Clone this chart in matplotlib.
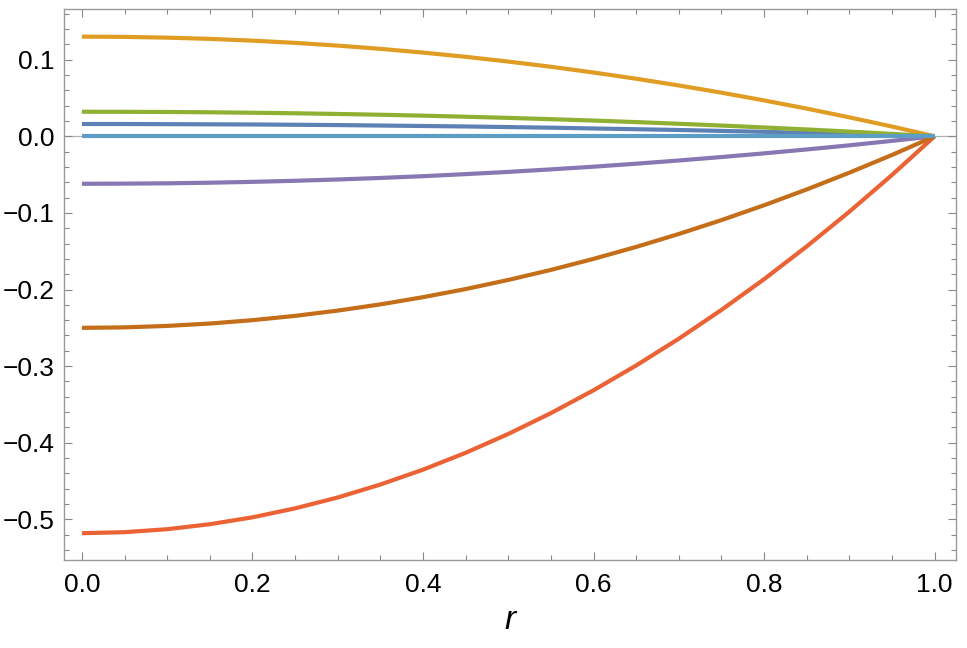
import matplotlib
matplotlib.use("Agg")
import matplotlib.pyplot as plt
from matplotlib.ticker import MultipleLocator

plt.rcParams['font.family'] = ['Liberation Sans', 'DejaVu Sans']

r = [0.0, 0.05, 0.1, 0.15, 0.2, 0.25, 0.3, 0.35, 0.4, 0.45, 0.5,
     0.55, 0.6, 0.65, 0.7, 0.75, 0.8, 0.85, 0.9, 0.95, 1.0]

blue = [0.016, 0.0160, 0.0158, 0.0156, 0.0154, 0.0150, 0.0146, 0.0140, 0.0134, 0.0128, 0.0120,
        0.0112, 0.0102, 0.0092, 0.0082, 0.0070, 0.0058, 0.0044, 0.0030, 0.0016, 0.0]
orange = [0.130, 0.1297, 0.1287, 0.1271, 0.1248, 0.1219, 0.1183, 0.1141, 0.1092, 0.1037, 0.0975,
          0.0907, 0.0832, 0.0751, 0.0663, 0.0569, 0.0468, 0.0361, 0.0247, 0.0127, 0.0]
green = [0.032, 0.0319, 0.0317, 0.0313, 0.0307, 0.0300, 0.0291, 0.0281, 0.0269, 0.0255, 0.0240,
         0.0223, 0.0205, 0.0185, 0.0163, 0.0140, 0.0115, 0.0089, 0.0061, 0.0031, 0.0]
red = [-0.518, -0.5167, -0.5128, -0.5063, -0.4973, -0.4856, -0.4714, -0.4545, -0.4351, -0.4131, -0.3885,
       -0.3613, -0.3315, -0.2991, -0.2642, -0.2266, -0.1865, -0.1437, -0.0984, -0.0505, 0.0]
purple = [-0.062, -0.0618, -0.0614, -0.0606, -0.0595, -0.0581, -0.0564, -0.0544, -0.0521, -0.0494, -0.0465,
          -0.0432, -0.0397, -0.0358, -0.0316, -0.0271, -0.0223, -0.0172, -0.0118, -0.0060, 0.0]
brown = [-0.25, -0.2494, -0.2475, -0.2444, -0.2400, -0.2344, -0.2275, -0.2194, -0.2100, -0.1994, -0.1875,
         -0.1744, -0.1600, -0.1444, -0.1275, -0.1094, -0.0900, -0.0694, -0.0475, -0.0244, 0.0]
lightblue = [0.0] * 21

series = [blue, orange, green, red, purple, brown, lightblue]
colors = ['#5E81B5', '#E19C24', '#8FB032', '#EB6235', '#8778B3', '#C56E1A', '#5D9EC7']

fig = plt.figure(figsize=(9.67, 6.48), dpi=100)
ax = fig.add_axes([0.0662, 0.1358, 0.9224, 0.8502])

ax.axhline(0, color='#b0b0b0', lw=0.9, zorder=0)
for ys, c in zip(series, colors):
    ax.plot(r, ys, color=c, lw=3.0, solid_capstyle='butt', solid_joinstyle='round')

ax.set_xlim(-0.021, 1.025)
ax.set_ylim(-0.553, 0.166)

ax.xaxis.set_major_locator(MultipleLocator(0.2))
ax.xaxis.set_minor_locator(MultipleLocator(0.05))
ax.yaxis.set_major_locator(MultipleLocator(0.1))
ax.yaxis.set_minor_locator(MultipleLocator(0.02))
ax.xaxis.set_major_formatter(matplotlib.ticker.FormatStrFormatter('%.1f'))
ax.yaxis.set_major_formatter(matplotlib.ticker.FuncFormatter(
    lambda v, p: ('%.1f' % v).replace('-', '\u2212') if abs(v) > 1e-9 else '0.0'))

ax.tick_params(which='both', direction='in', top=True, right=True, color='#888888',
               width=0.8, labelsize=19, labelcolor='black')
ax.tick_params(which='major', length=6, pad=7)
ax.tick_params(which='minor', length=3.5)
ax.tick_params(axis='x', which='major', pad=9)
ax.tick_params(top=True, labeltop=False, right=True, labelright=False)

for s in ax.spines.values():
    s.set_color('#999999')
    s.set_linewidth(1.0)

ax.set_xlabel('r', fontsize=24, style='italic', labelpad=6)

fig.savefig('out.png', dpi=100, facecolor='white')
